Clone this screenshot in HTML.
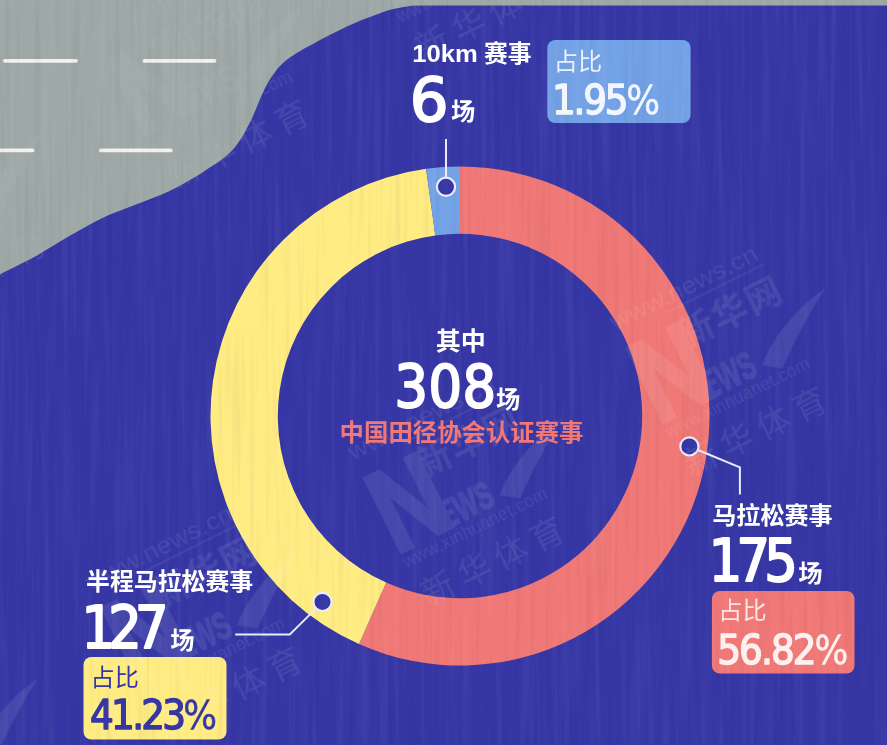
<!DOCTYPE html>
<html lang="zh-CN"><head><meta charset="utf-8"><title>马拉松赛事统计</title>
<style>html,body{margin:0;padding:0;background:#3637a5;}body{width:887px;height:745px;overflow:hidden}svg{display:block}</style>
</head><body>
<svg width="887" height="745" viewBox="0 0 887 745">
<defs>
<mask id="wmm" maskUnits="userSpaceOnUse" x="0" y="0" width="887" height="745"><rect width="887" height="745" fill="#6a6a6a"/><path d="M887 5.6L424 5.6 L412 5.8C408.9 6.3 399.4 7.7 393.6 9.1C387.8 10.5 382.8 12.3 377.4 14.2C372.0 16.1 366.6 18.1 361.2 20.3C355.8 22.5 350.3 24.9 344.9 27.4C339.5 29.9 334.1 32.7 328.7 35.5C323.3 38.3 317.7 41.4 312.5 44.2C307.3 47.0 302.1 49.6 297.5 52.5C292.9 55.4 288.7 58.1 285 61.3C281.3 64.5 278.0 68.2 275.1 71.9C272.2 75.6 269.8 79.4 267.6 83.2C265.4 87.0 263.7 90.8 262 94.5C260.3 98.2 258.9 102.0 257.3 105.7C255.7 109.5 254.3 113.2 252.6 117C250.9 120.8 248.9 124.6 246.9 128.3C244.9 132.1 242.9 135.8 240.4 139.5C237.9 143.2 235.2 147.4 231.9 150.8C228.6 154.2 224.4 157.4 220.7 160.2C216.9 163.0 213.8 164.8 209.4 167.7C205.0 170.6 200.7 173.9 194 177.8C187.3 181.7 178.8 186.8 169 191.3C159.2 195.8 146.6 200.3 135.3 204.8C124.1 209.3 112.8 213.0 101.5 218.4C90.2 223.8 78.9 230.5 67.6 237C56.3 243.5 45.1 251.1 33.8 257.3C22.5 263.5 5.6 271.4 0 274.2L-5 274 L-5 750L887 750Z" fill="#fff"/></mask>
<filter id="grainL" x="0" y="0" width="100%" height="100%" color-interpolation-filters="sRGB"><feTurbulence type="fractalNoise" baseFrequency="0.16 0.005" numOctaves="2" seed="7"/><feColorMatrix type="matrix" values="0 0 0 0 1  0 0 0 0 1  0 0 0 0 1  3 0 0 0 -1.3"/></filter>
<filter id="grainD" x="0" y="0" width="100%" height="100%" color-interpolation-filters="sRGB"><feTurbulence type="fractalNoise" baseFrequency="0.2 0.006" numOctaves="2" seed="23"/><feColorMatrix type="matrix" values="0 0 0 0 0  0 0 0 0 0  0 0 0 0 0.15  0 3 0 0 -1.45"/></filter>
</defs>
<rect width="887" height="745" fill="#9ea8a6"/>
<g stroke="#f1f2f0" stroke-width="3.8" stroke-linecap="round">
<line x1="5" y1="60.8" x2="76" y2="60.8"/><line x1="144.5" y1="60.8" x2="214.5" y2="60.8"/>
<line x1="-5" y1="150.4" x2="32.5" y2="150.4"/><line x1="101" y1="150.4" x2="170.7" y2="150.4"/>
</g>
<path d="M887 5.6L424 5.6 L412 5.8C408.9 6.3 399.4 7.7 393.6 9.1C387.8 10.5 382.8 12.3 377.4 14.2C372.0 16.1 366.6 18.1 361.2 20.3C355.8 22.5 350.3 24.9 344.9 27.4C339.5 29.9 334.1 32.7 328.7 35.5C323.3 38.3 317.7 41.4 312.5 44.2C307.3 47.0 302.1 49.6 297.5 52.5C292.9 55.4 288.7 58.1 285 61.3C281.3 64.5 278.0 68.2 275.1 71.9C272.2 75.6 269.8 79.4 267.6 83.2C265.4 87.0 263.7 90.8 262 94.5C260.3 98.2 258.9 102.0 257.3 105.7C255.7 109.5 254.3 113.2 252.6 117C250.9 120.8 248.9 124.6 246.9 128.3C244.9 132.1 242.9 135.8 240.4 139.5C237.9 143.2 235.2 147.4 231.9 150.8C228.6 154.2 224.4 157.4 220.7 160.2C216.9 163.0 213.8 164.8 209.4 167.7C205.0 170.6 200.7 173.9 194 177.8C187.3 181.7 178.8 186.8 169 191.3C159.2 195.8 146.6 200.3 135.3 204.8C124.1 209.3 112.8 213.0 101.5 218.4C90.2 223.8 78.9 230.5 67.6 237C56.3 243.5 45.1 251.1 33.8 257.3C22.5 263.5 5.6 271.4 0 274.2L-5 274 L-5 750L887 750Z" fill="#3637a5"/>
<path d="M460.00 166.50A249.5 249.5 0 1 1 358.92 644.11L386.18 582.58A182.2 182.2 0 1 0 460.00 233.80Z" fill="#f07876"/>
<path d="M358.92 644.11A249.5 249.5 0 0 1 426.14 168.81L435.27 235.49A182.2 182.2 0 0 0 386.18 582.58Z" fill="#ffec82"/>
<path d="M426.14 168.81A249.5 249.5 0 0 1 460.00 166.50L460.00 233.80A182.2 182.2 0 0 0 435.27 235.49Z" fill="#73a2e6"/>
<g stroke="#ececfb" stroke-width="2" fill="none">
<path d="M446 139V180"/>
<path d="M698 450L739.9 467.4V494.5"/>
<path d="M316 608.5L289.7 634.6H235.2"/>
</g>
<circle cx="446" cy="186.8" r="9.1" fill="#3637a5" stroke="#ececfb" stroke-width="2.2"/><circle cx="689.4" cy="446.4" r="9.1" fill="#3637a5" stroke="#ececfb" stroke-width="2.2"/><circle cx="322.5" cy="601.9" r="9.1" fill="#3637a5" stroke="#ececfb" stroke-width="2.2"/>
<rect x="547.3" y="40" width="143.3" height="83" rx="8" fill="#73a2e6"/>
<rect x="711.9" y="591" width="142.6" height="82.5" rx="8" fill="#f07876"/>
<rect x="83.5" y="657" width="143" height="82.5" rx="8" fill="#ffec82"/>
<g mask="url(#wmm)"><g transform="translate(546.5 533.5) rotate(-26.4)" fill="#fff" opacity="0.085" font-family="Liberation Sans, Noto Sans CJK SC, sans-serif">
<text x="-141" y="-151" font-size="24" textLength="161" lengthAdjust="spacingAndGlyphs">www.news.cn</text>
<rect x="-88" y="-145.5" width="110" height="1.6"/>
<text x="-144.7" y="-48" font-size="118" font-weight="700" stroke="#fff" stroke-width="4" textLength="70.6" lengthAdjust="spacingAndGlyphs">N</text>
<text x="-86" y="-104" font-size="36" font-weight="700" letter-spacing="1.5">新华网</text>
<text x="-88" y="-48" font-size="39" font-weight="700" stroke="#fff" stroke-width="1.5" textLength="57" lengthAdjust="spacingAndGlyphs">EWS</text>
<path d="M-25 -55C-8 -72 26 -90 66 -96C42 -82 14 -62 -8 -43Z"/>
<text x="-141" y="-31" font-size="17.5" textLength="159" lengthAdjust="spacing">www.xinhuanet.com</text>
<text x="-138" y="12.5" font-size="33" font-weight="400" letter-spacing="7.5">新华体育</text>
</g><g transform="translate(808.9 403.5) rotate(-26.4)" fill="#fff" opacity="0.085" font-family="Liberation Sans, Noto Sans CJK SC, sans-serif">
<text x="-141" y="-151" font-size="24" textLength="161" lengthAdjust="spacingAndGlyphs">www.news.cn</text>
<rect x="-88" y="-145.5" width="110" height="1.6"/>
<text x="-144.7" y="-48" font-size="118" font-weight="700" stroke="#fff" stroke-width="4" textLength="70.6" lengthAdjust="spacingAndGlyphs">N</text>
<text x="-86" y="-104" font-size="36" font-weight="700" letter-spacing="1.5">新华网</text>
<text x="-88" y="-48" font-size="39" font-weight="700" stroke="#fff" stroke-width="1.5" textLength="57" lengthAdjust="spacingAndGlyphs">EWS</text>
<path d="M-25 -55C-8 -72 26 -90 66 -96C42 -82 14 -62 -8 -43Z"/>
<text x="-141" y="-31" font-size="17.5" textLength="159" lengthAdjust="spacing">www.xinhuanet.com</text>
<text x="-138" y="12.5" font-size="33" font-weight="400" letter-spacing="7.5">新华体育</text>
</g><g transform="translate(284.1 663.5) rotate(-26.4)" fill="#fff" opacity="0.085" font-family="Liberation Sans, Noto Sans CJK SC, sans-serif">
<text x="-141" y="-151" font-size="24" textLength="161" lengthAdjust="spacingAndGlyphs">www.news.cn</text>
<rect x="-88" y="-145.5" width="110" height="1.6"/>
<text x="-144.7" y="-48" font-size="118" font-weight="700" stroke="#fff" stroke-width="4" textLength="70.6" lengthAdjust="spacingAndGlyphs">N</text>
<text x="-86" y="-104" font-size="36" font-weight="700" letter-spacing="1.5">新华网</text>
<text x="-88" y="-48" font-size="39" font-weight="700" stroke="#fff" stroke-width="1.5" textLength="57" lengthAdjust="spacingAndGlyphs">EWS</text>
<path d="M-25 -55C-8 -72 26 -90 66 -96C42 -82 14 -62 -8 -43Z"/>
<text x="-141" y="-31" font-size="17.5" textLength="159" lengthAdjust="spacing">www.xinhuanet.com</text>
<text x="-138" y="12.5" font-size="33" font-weight="400" letter-spacing="7.5">新华体育</text>
</g><g transform="translate(291 116.5) rotate(-26.4)" fill="#fff" opacity="0.085" font-family="Liberation Sans, Noto Sans CJK SC, sans-serif">
<text x="-141" y="-151" font-size="24" textLength="161" lengthAdjust="spacingAndGlyphs">www.news.cn</text>
<rect x="-88" y="-145.5" width="110" height="1.6"/>
<text x="-144.7" y="-48" font-size="118" font-weight="700" stroke="#fff" stroke-width="4" textLength="70.6" lengthAdjust="spacingAndGlyphs">N</text>
<text x="-86" y="-104" font-size="36" font-weight="700" letter-spacing="1.5">新华网</text>
<text x="-88" y="-48" font-size="39" font-weight="700" stroke="#fff" stroke-width="1.5" textLength="57" lengthAdjust="spacingAndGlyphs">EWS</text>
<path d="M-25 -55C-8 -72 26 -90 66 -96C42 -82 14 -62 -8 -43Z"/>
<text x="-141" y="-31" font-size="17.5" textLength="159" lengthAdjust="spacing">www.xinhuanet.com</text>
<text x="-138" y="12.5" font-size="33" font-weight="400" letter-spacing="7.5">新华体育</text>
</g><g transform="translate(540.6 -12) rotate(-26.4)" fill="#fff" opacity="0.085" font-family="Liberation Sans, Noto Sans CJK SC, sans-serif">
<text x="-141" y="-151" font-size="24" textLength="161" lengthAdjust="spacingAndGlyphs">www.news.cn</text>
<rect x="-88" y="-145.5" width="110" height="1.6"/>
<text x="-144.7" y="-48" font-size="118" font-weight="700" stroke="#fff" stroke-width="4" textLength="70.6" lengthAdjust="spacingAndGlyphs">N</text>
<text x="-86" y="-104" font-size="36" font-weight="700" letter-spacing="1.5">新华网</text>
<text x="-88" y="-48" font-size="39" font-weight="700" stroke="#fff" stroke-width="1.5" textLength="57" lengthAdjust="spacingAndGlyphs">EWS</text>
<path d="M-25 -55C-8 -72 26 -90 66 -96C42 -82 14 -62 -8 -43Z"/>
<text x="-141" y="-31" font-size="17.5" textLength="159" lengthAdjust="spacing">www.xinhuanet.com</text>
<text x="-138" y="12.5" font-size="33" font-weight="400" letter-spacing="7.5">新华体育</text>
</g><g transform="translate(28.6 246.5) rotate(-26.4)" fill="#fff" opacity="0.085" font-family="Liberation Sans, Noto Sans CJK SC, sans-serif">
<text x="-141" y="-151" font-size="24" textLength="161" lengthAdjust="spacingAndGlyphs">www.news.cn</text>
<rect x="-88" y="-145.5" width="110" height="1.6"/>
<text x="-144.7" y="-48" font-size="118" font-weight="700" stroke="#fff" stroke-width="4" textLength="70.6" lengthAdjust="spacingAndGlyphs">N</text>
<text x="-86" y="-104" font-size="36" font-weight="700" letter-spacing="1.5">新华网</text>
<text x="-88" y="-48" font-size="39" font-weight="700" stroke="#fff" stroke-width="1.5" textLength="57" lengthAdjust="spacingAndGlyphs">EWS</text>
<path d="M-25 -55C-8 -72 26 -90 66 -96C42 -82 14 -62 -8 -43Z"/>
<text x="-141" y="-31" font-size="17.5" textLength="159" lengthAdjust="spacing">www.xinhuanet.com</text>
<text x="-138" y="12.5" font-size="33" font-weight="400" letter-spacing="7.5">新华体育</text>
</g><g transform="translate(21.7 793.5) rotate(-26.4)" fill="#fff" opacity="0.085" font-family="Liberation Sans, Noto Sans CJK SC, sans-serif">
<text x="-141" y="-151" font-size="24" textLength="161" lengthAdjust="spacingAndGlyphs">www.news.cn</text>
<rect x="-88" y="-145.5" width="110" height="1.6"/>
<text x="-144.7" y="-48" font-size="118" font-weight="700" stroke="#fff" stroke-width="4" textLength="70.6" lengthAdjust="spacingAndGlyphs">N</text>
<text x="-86" y="-104" font-size="36" font-weight="700" letter-spacing="1.5">新华网</text>
<text x="-88" y="-48" font-size="39" font-weight="700" stroke="#fff" stroke-width="1.5" textLength="57" lengthAdjust="spacingAndGlyphs">EWS</text>
<path d="M-25 -55C-8 -72 26 -90 66 -96C42 -82 14 -62 -8 -43Z"/>
<text x="-141" y="-31" font-size="17.5" textLength="159" lengthAdjust="spacing">www.xinhuanet.com</text>
<text x="-138" y="12.5" font-size="33" font-weight="400" letter-spacing="7.5">新华体育</text>
</g><g transform="translate(803 -142) rotate(-26.4)" fill="#fff" opacity="0.085" font-family="Liberation Sans, Noto Sans CJK SC, sans-serif">
<text x="-141" y="-151" font-size="24" textLength="161" lengthAdjust="spacingAndGlyphs">www.news.cn</text>
<rect x="-88" y="-145.5" width="110" height="1.6"/>
<text x="-144.7" y="-48" font-size="118" font-weight="700" stroke="#fff" stroke-width="4" textLength="70.6" lengthAdjust="spacingAndGlyphs">N</text>
<text x="-86" y="-104" font-size="36" font-weight="700" letter-spacing="1.5">新华网</text>
<text x="-88" y="-48" font-size="39" font-weight="700" stroke="#fff" stroke-width="1.5" textLength="57" lengthAdjust="spacingAndGlyphs">EWS</text>
<path d="M-25 -55C-8 -72 26 -90 66 -96C42 -82 14 -62 -8 -43Z"/>
<text x="-141" y="-31" font-size="17.5" textLength="159" lengthAdjust="spacing">www.xinhuanet.com</text>
<text x="-138" y="12.5" font-size="33" font-weight="400" letter-spacing="7.5">新华体育</text>
</g></g>
<rect width="887" height="745" filter="url(#grainL)" opacity="0.038"/>
<rect width="887" height="745" filter="url(#grainD)" opacity="0.034"/>
<g fill="#fff" font-weight="700" font-family="Liberation Sans, Noto Sans CJK SC, sans-serif">
<text x="412.3" y="62" font-size="23.5" textLength="65.5" lengthAdjust="spacingAndGlyphs">10km</text><text x="484" y="62" font-size="23.8">赛事</text>
<text x="451" y="120" font-size="24.3">场</text>
<text x="435.8" y="349.5" font-size="25">其中</text>
<text x="496" y="407.5" font-size="24.3">场</text>
<text x="339.6" y="441" font-size="24.4" fill="#f07876">中国田径协会认证赛事</text>
<text x="712.2" y="524" font-size="24.1">马拉松赛事</text>
<text x="798.3" y="582" font-size="24.3">场</text>
<text x="86" y="589.5" font-size="23.9">半程马拉松赛事</text>
<text x="170.3" y="648.5" font-size="24.3">场</text>
</g>
<g fill="#fff" stroke="#fff" stroke-width="2" stroke-linejoin="round" font-family="DejaVu Sans, Liberation Sans, sans-serif" font-stretch="condensed" font-size="58.5">
<text x="409.8" y="120.8" font-stretch="normal" font-size="61">6</text>
<text x="394.5" y="406.9" textLength="101.5" lengthAdjust="spacing">308</text>
<text x="708.8" y="581.2" textLength="89" lengthAdjust="spacing">175</text>
<text x="81.4" y="648.4" textLength="87" lengthAdjust="spacing">127</text>
</g>
<g font-weight="400" font-family="Liberation Sans, Noto Sans CJK SC, sans-serif" font-size="24.2">
<text x="553.8" y="69.5" fill="#eaf1fb">占比</text>
<text x="718.3" y="619" fill="#fde6e4">占比</text>
<text x="90.5" y="685.5" fill="#3637a5">占比</text>
</g>
<g font-family="DejaVu Sans, Liberation Sans, sans-serif" font-stretch="condensed" font-size="41.5" stroke-width="1.4" stroke-linejoin="round">
<text x="552" y="113.6" fill="#f3f7fd" stroke="#f3f7fd" textLength="108" lengthAdjust="spacing">1.95<tspan stroke-width="0.5" font-size="39.5">%</tspan></text>
<text x="717.3" y="664.2" fill="#fdf1f0" stroke="#fdf1f0" textLength="131" lengthAdjust="spacing">56.82<tspan stroke-width="0.5" font-size="39.5">%</tspan></text>
<text x="90.1" y="729.4" fill="#3637a5" stroke="#3637a5" textLength="127" lengthAdjust="spacing">41.23<tspan stroke-width="0.5" font-size="39.5">%</tspan></text>
</g>
</svg>
</body></html>
